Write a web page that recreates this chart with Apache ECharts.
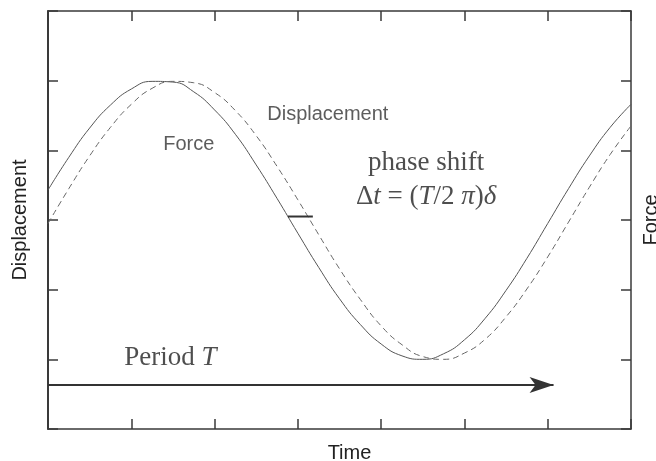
<!DOCTYPE html>
<html>
<head>
<meta charset="utf-8">
<script src="https://cdn.jsdelivr.net/npm/echarts@6/dist/echarts.min.js"></script>
<style>
  html, body { margin: 0; padding: 0; background: #fff; }
  #chart { width: 656px; height: 461px; }
</style>
</head>
<body>
<div id="chart"></div>
<script>
// time samples (axis units, one tick = 1)
const timeValues = [0, 0.25, 0.5, 0.75, 1, 1.25, 1.5, 1.75, 2, 2.25, 2.5, 2.75, 3, 3.25, 3.5,
  3.75, 4, 4.25, 4.5, 4.75, 5, 5.25, 5.5, 5.75, 6, 6.25, 6.5, 6.75, 7];
// solid curve (Force)
const forceValues = [3.43, 3.90, 4.32, 4.65, 4.88, 4.99, 4.98, 4.84, 4.58, 4.23, 3.79, 3.31, 2.81, 2.32, 1.87,
  1.50, 1.22, 1.05, 1.00, 1.08, 1.28, 1.59, 1.99, 2.45, 2.95, 3.45, 3.92, 4.33, 4.66];
// dashed curve (Displacement), lags the force
const dispValues = [2.95, 3.45, 3.92, 4.33, 4.66, 4.89, 4.99, 4.97, 4.83, 4.57, 4.21, 3.77, 3.29, 2.79, 2.30,
  1.86, 1.48, 1.21, 1.04, 1.00, 1.09, 1.29, 1.61, 2.01, 2.47, 2.97, 3.47, 3.94, 4.35];
// short bar marking the phase shift
const shiftMarkX = [2.88, 3.18];
const shiftMarkY = [3.05, 3.05];
// period arrow
const periodStart = [0, 0.63];
const periodEnd = [6.07, 0.63];

const sans = "'Liberation Sans', Arial, sans-serif";
const serif = "'Liberation Serif', 'Times New Roman', serif";

const chart = echarts.init(document.getElementById('chart'));

const axisLine = { show: true, onZero: false, lineStyle: { color: '#3a3a3a', width: 1.5 } };
const axisTick = { show: true, inside: true, length: 10, lineStyle: { color: '#3a3a3a', width: 1.5 } };

const annotations = [
  { value: [1.69, 4.08], label: { formatter: 'Force', fontFamily: sans, fontSize: 20, color: '#333' } },
  { value: [3.36, 4.51], label: { formatter: 'Displacement', fontFamily: sans, fontSize: 20, color: '#333' } },
  { value: [4.54, 3.82], label: { formatter: 'phase shift', fontFamily: serif, fontSize: 27, color: '#222' } },
  { value: [4.54, 3.33], label: {
      formatter: '{r|Δ}{i|t}{r| = (}{i|T}{r|/2 }{i|π}{r|)}{i|δ}',
      rich: {
        r: { fontFamily: serif, fontSize: 27, color: '#222' },
        i: { fontFamily: serif, fontSize: 27, fontStyle: 'italic', color: '#222' }
      } } },
  { value: [1.47, 1.02], label: {
      formatter: '{r|Period }{i|T}',
      rich: {
        r: { fontFamily: serif, fontSize: 27, color: '#222' },
        i: { fontFamily: serif, fontSize: 27, fontStyle: 'italic', color: '#222' }
      } } }
];

const option = {
  animation: false,
  grid: { left: 48, right: 25, top: 11, bottom: 32, containLabel: false, outerBoundsMode: 'none' },
  xAxis: [
    {
      type: 'value', position: 'bottom', min: 0, max: 7, interval: 1,
      name: 'Time', nameLocation: 'middle', nameGap: 14,
      nameTextStyle: { fontFamily: sans, fontSize: 20, color: '#222', padding: [0, 0, 0, 20] },
      axisLine: axisLine, axisTick: axisTick, axisLabel: { show: false }, splitLine: { show: false }
    },
    {
      type: 'value', position: 'top', min: 0, max: 7, interval: 1,
      axisLine: axisLine, axisTick: axisTick, axisLabel: { show: false }, splitLine: { show: false }
    }
  ],
  yAxis: [
    {
      type: 'value', position: 'left', min: 0, max: 6, interval: 1,
      name: 'Displacement', nameLocation: 'middle', nameGap: 18, nameRotate: 90,
      nameTextStyle: { fontFamily: sans, fontSize: 20, color: '#222' },
      axisLine: { show: true, onZero: false, lineStyle: { color: '#3a3a3a', width: 2 } },
      axisTick: axisTick, axisLabel: { show: false }, splitLine: { show: false }
    },
    {
      type: 'value', position: 'right', min: 0, max: 6, interval: 1,
      name: 'Force', nameLocation: 'middle', nameGap: 10, nameRotate: 90,
      nameTextStyle: { fontFamily: sans, fontSize: 20, color: '#222' },
      axisLine: axisLine, axisTick: axisTick, axisLabel: { show: false }, splitLine: { show: false }
    }
  ],
  series: [
    {
      name: 'Force', type: 'line', smooth: true, showSymbol: false,
      data: timeValues.map((t, i) => [t, forceValues[i]]),
      lineStyle: { color: '#555', width: 1 }
    },
    {
      name: 'Displacement', type: 'line', smooth: true, showSymbol: false,
      data: timeValues.map((t, i) => [t, dispValues[i]]),
      lineStyle: { color: '#666', width: 1, type: [6, 4] }
    },
    {
      name: 'shift', type: 'line', showSymbol: false,
      data: shiftMarkX.map((x, i) => [x, shiftMarkY[i]]),
      lineStyle: { color: '#333', width: 2 }
    },
    {
      name: 'period', type: 'line', data: [],
      markLine: {
        silent: true, symbol: ['none', 'arrow'], symbolSize: [12, 24],
        label: { show: false },
        lineStyle: { color: '#333', width: 2, type: 'solid' },
        data: [[{ coord: periodStart }, { coord: periodEnd }]]
      }
    },
    {
      name: 'labels', type: 'scatter', symbolSize: 0, silent: true,
      label: { show: true, position: 'inside' },
      data: annotations
    }
  ]
};

chart.setOption(option);
</script>
</body>
</html>
